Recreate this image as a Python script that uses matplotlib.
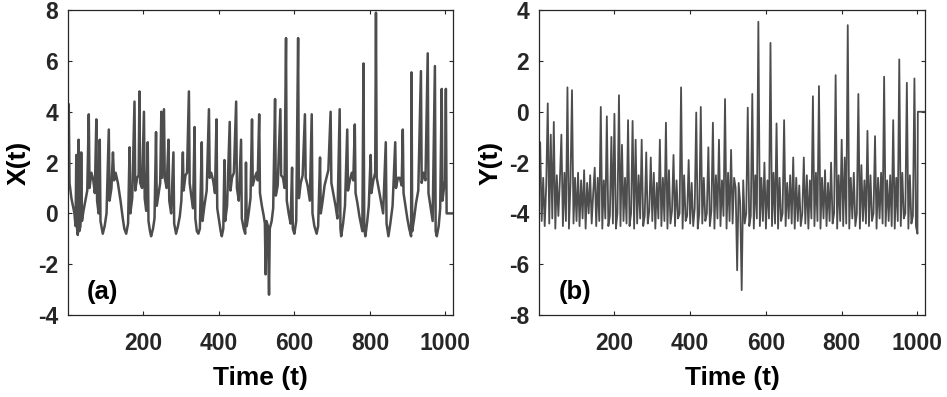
import numpy as np
import matplotlib
matplotlib.use("Agg")
import matplotlib.pyplot as plt

plt.rcParams['font.family'] = ['Liberation Sans', 'DejaVu Sans']
plt.rcParams['font.weight'] = 'bold'
plt.rcParams['axes.unicode_minus'] = False

# X(t): sample times and values
x_time = [1, 3, 5, 10, 14, 18, 21, 23, 25, 27,
          29, 31, 34, 36, 38, 42, 47, 52, 56, 58,
          63, 68, 72, 76, 78, 82, 85, 87, 93, 98,
          103, 109, 111, 116, 120, 123, 127, 133, 140, 146,
          150, 155, 160, 164, 166, 171, 177, 179, 184, 188,
          190, 192, 197, 202, 204, 208, 212, 214, 218, 221,
          226, 230, 234, 236, 241, 245, 248, 250, 255, 257,
          262, 267, 269, 274, 280, 282, 287, 292, 297, 301,
          305, 307, 312, 316, 321, 323, 328, 332, 336, 338,
          342, 346, 350, 355, 357, 362, 368, 374, 376, 380,
          385, 390, 394, 396, 401, 405, 408, 412, 415, 417,
          422, 429, 431, 435, 440, 446, 448, 453, 459, 461,
          466, 470, 472, 474, 479, 484, 488, 490, 495, 500,
          503, 507, 509, 514, 519, 522, 524, 526, 530, 533,
          535, 540, 544, 549, 551, 556, 563, 565, 570, 574,
          578, 580, 585, 590, 594, 596, 600, 605, 610, 612,
          617, 622, 628, 630, 635, 641, 646, 648, 653, 659,
          663, 668, 670, 675, 680, 685, 690, 696, 698, 703,
          709, 714, 720, 722, 724, 729, 734, 740, 742, 747,
          752, 756, 760, 762, 767, 772, 776, 780, 783, 785,
          788, 793, 797, 802, 804, 809, 814, 816, 818, 823,
          829, 835, 842, 844, 849, 854, 860, 867, 869, 874,
          879, 884, 887, 889, 894, 899, 904, 909, 910, 912,
          917, 922, 928, 935, 937, 942, 947, 953, 955, 960,
          966, 972, 974, 977, 982, 986, 990, 992, 996, 999,
          1001, 1003, 1020]
x_vals = [1.7, 4.3, 1.2, 0.6, 0.3, 0.0, -0.5, 2.3, -0.6, -0.85,
          2.9, -0.7, -0.5, 2.4, -0.3, 0.1, 0.5, 0.9, 3.9, 1.0,
          1.6, 1.3, 0.8, 3.7, 0.5, 0.0, 2.9, -0.3, -0.8, -0.5,
          0.0, 3.3, 0.5, 1.0, 2.4, 1.3, 1.6, 1.2, 0.5, -0.2,
          -0.6, -0.8, -0.4, 2.6, 0.0, 0.6, 4.4, 0.9, 1.4, 1.5,
          4.8, 1.2, 1.0, 4.0, 0.6, 0.1, 2.8, -0.3, -0.7, -0.9,
          -0.6, -0.2, 3.2, 0.3, 0.8, 1.2, 4.0, 1.4, 4.1, 1.4,
          1.0, 2.9, 0.5, 0.0, 2.4, -0.4, -0.8, -0.5, -0.1, 0.5,
          2.4, 0.9, 1.5, 1.6, 4.8, 1.2, 0.6, 0.2, 3.4, -0.2,
          -0.7, -0.8, -0.6, 2.8, -0.3, 0.3, 0.9, 4.1, 1.4, 1.6,
          1.3, 0.8, 3.7, 0.2, -0.3, -0.7, -0.9, -0.6, 2.1, -0.3,
          0.3, 3.6, 0.9, 1.4, 1.6, 4.4, 1.0, 0.5, 2.9, -0.2,
          -0.6, -0.8, 2.0, -0.5, 0.0, 0.6, 3.7, 1.1, 1.4, 1.6,
          1.3, 3.9, 0.8, 0.3, -0.1, -0.4, -2.4, -0.3, -0.5, -3.2,
          -0.6, -0.3, 0.2, 4.5, 0.7, 1.1, 4.1, 1.5, 1.4, 1.0,
          6.9, 0.5, 0.0, -0.4, 1.8, -0.6, -0.8, -0.3, 6.9, 0.6,
          1.2, 1.5, 3.9, 1.4, 1.1, 0.5, 3.9, 0.0, -0.5, -0.8,
          -0.5, 2.2, 0.0, 0.5, 1.1, 1.4, 1.7, 4.0, 1.2, 0.8,
          0.3, -0.2, 4.1, -0.6, -0.9, -0.4, 0.3, 3.3, 0.9, 1.3,
          1.6, 1.3, 3.5, 0.8, 0.4, -0.1, -0.4, -0.7, 5.9, -0.6,
          -0.9, -0.3, 0.3, 2.3, 0.8, 1.3, 1.6, 7.9, 1.4, 1.0,
          0.5, 0.0, 2.8, -0.4, -0.9, -0.4, 0.3, 2.8, 1.0, 1.4,
          1.4, 1.1, 3.3, 0.8, 0.3, -0.2, -0.6, -0.9, 5.55, -0.7,
          -0.2, 0.4, 0.9, 5.6, 1.2, 1.6, 1.3, 6.3, 0.8, 0.3,
          -0.3, 5.8, -0.7, -0.9, -0.5, 0.2, 4.9, 0.5, 1.0, 1.3,
          4.9, 0.0, 0.0]

# Y(t): values read every 4 time steps from panel (b)
y_step = 4
y_vals = [-3.0, -1.2, -4.3, -2.6, -4.5, -2.9, 0.33, -4.4, -0.9, -4.2,
          -0.4, -4.6, -2.5, -4.1, -2.7, -0.9, -4.5, -2.4, -4.3, 0.96,
          -4.6, -2.8, 0.85, -4.4, -2.6, -4.3, -2.4, -4.5, -2.7, -4.2,
          -2.3, -4.6, -2.8, -4.0, -2.5, -4.4, -3.2, -2.2, -4.5, -2.6,
          -4.3, 0.19, -4.6, -2.7, -4.2, -0.18, -4.5, -4.1, -0.99, -4.4,
          -0.08, -4.6, -4.0, 0.65, -4.5, -1.3, -4.3, -2.6, -4.4, -0.33,
          -4.5, -4.0, -0.36, -4.6, -1.1, -4.4, -2.5, -4.2, -1.1, -4.5,
          -4.1, -1.6, -4.4, -3.9, -1.8, -4.3, -2.4, -4.6, -2.8, -4.2,
          -1.1, -4.5, -2.6, -4.3, -0.43, -4.6, -2.3, -4.4, -3.9, -1.7,
          -4.5, -2.7, -4.2, -4.0, 0.96, -4.6, -2.5, -4.3, -4.1, -1.9,
          -4.4, -2.8, -4.5, -3.8, -0.03, -4.6, -4.0, 0.19, -4.4, -2.6,
          -4.3, -4.0, -1.4, -4.5, -3.9, -0.43, -4.6, -2.5, -4.2, -1.1,
          -4.5, -2.7, -4.1, 0.5, -4.6, -2.4, -4.3, -1.5, -4.4, -2.6,
          -3.0, -6.24, -2.8, -3.6, -7.02, -2.7, -4.4, -4.0, 0.16, -4.5,
          -4.1, 0.7, -4.6, -2.5, -4.2, 3.54, -4.5, -2.6, -4.3, -2.0,
          -4.6, -2.7, -4.2, 2.71, -4.5, -2.4, -4.4, -0.46, -4.6, -2.6,
          -4.3, -4.0, -0.33, -4.5, -2.8, -4.2, -2.5, -4.4, -1.8, -4.6,
          -2.6, -4.3, -2.9, -4.5, -4.0, -1.8, -4.4, -2.5, -4.6, -2.7,
          -4.2, 0.61, -4.5, -2.4, -4.3, 1.01, -4.6, -2.6, -4.2, -2.3,
          -4.5, -2.8, -4.3, -2.0, -4.4, -4.0, 1.44, -4.6, -2.5, -4.3,
          -1.1, -4.5, -1.8, -4.4, 3.41, -4.6, -2.6, -4.2, -2.4, -4.5,
          -4.0, 0.7, -4.6, -2.1, -4.3, -2.7, -4.4, -0.75, -4.5, -2.5,
          -4.3, -4.0, -0.96, -4.6, -2.6, -4.2, -2.4, -4.4, 1.38, -4.5,
          -2.7, -4.3, -2.5, -4.5, -0.33, -4.6, -2.6, -4.3, 2.06, -4.5,
          -2.4, -4.2, -4.0, 1.14, -4.6, -2.5, -4.4, -4.1, 1.31, -4.5,
          -4.8]
y_tail_time = [1001, 1020]
y_tail_vals = [0.0, 0.0]

xticks = [200, 400, 600, 800, 1000]
x_yticks = [-4, -2, 0, 2, 4, 6, 8]
y_yticks = [-8, -6, -4, -2, 0, 2, 4]

y_time = list(np.arange(len(y_vals)) * y_step) + y_tail_time
y_all = y_vals + y_tail_vals

line_col = '#4d4d4d'
txt_col = '#262626'

fig = plt.figure(figsize=(9.47, 3.97), dpi=100)
ax1 = fig.add_axes([0.0718, 0.2065, 0.4066, 0.768])
ax2 = fig.add_axes([0.5692, 0.2065, 0.4076, 0.768])

panels = [(ax1, x_time, x_vals, 'X(t)', x_yticks, '(a)', 1.8),
          (ax2, y_time, y_all, 'Y(t)', y_yticks, '(b)', 1.3)]

for ax, tt, vv, lab, yt, tag, lw in panels:
    ax.plot(tt, vv, color=line_col, lw=lw)
    ax.set_xlim(1, 1020)
    ax.set_ylim(yt[0], yt[-1])
    ax.set_xticks(xticks)
    ax.set_yticks(yt)
    ax.tick_params(direction='in', length=3, width=0.8, top=True, right=True,
                   labelsize=16.5, colors=txt_col)
    ax.tick_params(axis='x', pad=12)
    ax.tick_params(axis='y', pad=7)
    for lb in ax.get_xticklabels() + ax.get_yticklabels():
        lb.set_fontweight('bold')
    for sp in ax.spines.values():
        sp.set_color(txt_col)
        sp.set_linewidth(0.9)
    ax.set_xlabel('Time (t)', fontsize=19, fontweight='bold', color='black', labelpad=8)
    ax.set_ylabel(lab, fontsize=19, fontweight='bold', color='black', labelpad=5)
    ax.text(0.05, 0.035, tag, transform=ax.transAxes, fontsize=18.5,
            fontweight='bold', color='black', ha='left', va='bottom')

fig.savefig('out.png', dpi=100)
